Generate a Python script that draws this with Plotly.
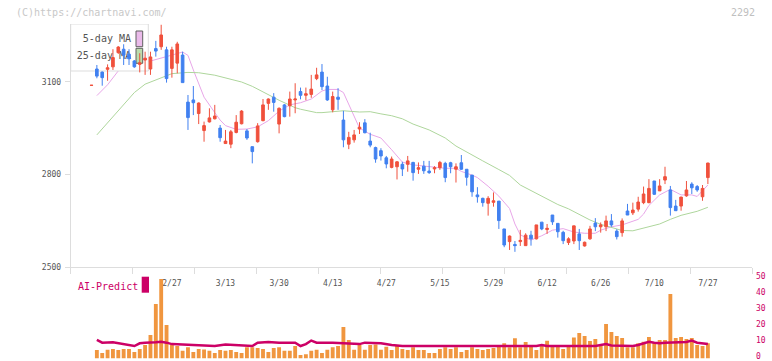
import plotly.graph_objects as go

# ---------------- data ----------------
idx = list(range(116))
opens = [3088, 3141, 3131, 3140, 3148, 3194, 3205, 3189, 3167, 3156,
         3170, 3141, 3207, 3213, 3203, 3143, 3160, 3186, 3034, 3041,
         2997, 2942, 2970, 2980, 2950, 2900, 2898, 2936, 2964, 2941,
         2890, 2906, 2974, 3030, 3050, 2963, 3025, 3022, 3041, 3068,
         3056, 3059, 3110, 3131, 3086, 3009, 3050, 2976, 2898, 2912,
         2947, 2967, 2908, 2887, 2877, 2854, 2823, 2825, 2833, 2833,
         2839, 2817, 2827, 2811, 2818, 2822, 2836, 2838, 2817, 2838,
         2817, 2798, 2734, 2723, 2707, 2710, 2714, 2624, 2583, 2574,
         2583, 2570, 2604, 2592, 2646, 2622, 2669, 2642, 2613, 2580,
         2585, 2608, 2569, 2592, 2643, 2631, 2631, 2650, 2617, 2612,
         2682, 2676, 2688, 2709, 2709, 2779, 2747, 2782, 2750, 2698,
         2698, 2731, 2769, 2761, 2728, 2790]
highs = [3088.5, 3154, 3133, 3156, 3205, 3215, 3221, 3205, 3170, 3192,
         3197, 3197, 3232, 3284, 3213, 3213, 3229, 3197, 3057, 3086,
         3033, 2971, 3014, 3025, 2960, 2944, 2944, 2992, 3008, 2947,
         2890, 2966, 3044, 3046, 3063, 3017, 3028, 3068, 3095, 3081,
         3081, 3122, 3145, 3157, 3116, 3068, 3079, 3006, 2938, 2944,
         2969, 2979, 2935, 2890, 2885, 2860, 2858, 2843, 2841, 2860,
         2841, 2839, 2844, 2844, 2827, 2844, 2841, 2841, 2836, 2863,
         2817, 2798, 2759, 2725, 2730, 2742, 2714, 2624, 2603, 2585,
         2621, 2610, 2618, 2637, 2646, 2640, 2669, 2642, 2618, 2597,
         2634, 2624, 2583, 2634, 2659, 2645, 2667, 2672, 2623, 2658,
         2705, 2709, 2728, 2761, 2785, 2779, 2785, 2825, 2763, 2718,
         2728, 2779, 2775, 2766, 2766, 2838]
lows = [3088, 3111, 3087, 3103, 3138, 3190, 3154, 3154, 3145, 3130,
        3122, 3122, 3181, 3203, 3097, 3113, 3127, 3097, 2944, 2992,
        2963, 2906, 2968, 2978, 2906, 2900, 2885, 2933, 2962, 2912,
        2836, 2903, 2972, 3009, 3003, 2933, 2985, 2987, 2998, 3043,
        3040, 3048, 3105, 3073, 3038, 3001, 3009, 2888, 2882, 2903,
        2931, 2933, 2888, 2838, 2845, 2820, 2820, 2784, 2795, 2809,
        2780, 2802, 2802, 2802, 2804, 2815, 2775, 2804, 2774, 2815,
        2764, 2728, 2709, 2696, 2667, 2696, 2624, 2565, 2556, 2550,
        2569, 2570, 2570, 2590, 2620, 2608, 2637, 2596, 2575, 2572,
        2575, 2556, 2567, 2589, 2617, 2612, 2617, 2631, 2590, 2599,
        2669, 2669, 2680, 2704, 2707, 2734, 2747, 2769, 2667, 2683,
        2683, 2728, 2737, 2744, 2715, 2769]
closes = [3088.5, 3118, 3113, 3145, 3178, 3212, 3186, 3174, 3148, 3161,
          3176, 3180, 3199, 3251, 3110, 3203, 3222, 3097, 2984, 3032,
          3031, 2958, 2983, 2989, 2919, 2908, 2938, 2969, 3005, 2918,
          2874, 2957, 3025, 3044, 3033, 3014, 2987, 3044, 3044, 3056,
          3061, 3076, 3122, 3084, 3041, 3052, 3043, 2912, 2920, 2928,
          2953, 2935, 2895, 2850, 2860, 2834, 2850, 2841, 2818, 2844,
          2806, 2822, 2812, 2806, 2822, 2839, 2790, 2825, 2825, 2817,
          2791, 2744, 2728, 2709, 2723, 2715, 2651, 2572, 2601, 2570,
          2587, 2604, 2592, 2637, 2624, 2626, 2647, 2615, 2586, 2592,
          2634, 2586, 2581, 2624, 2631, 2637, 2650, 2637, 2599, 2650,
          2669, 2685, 2711, 2737, 2755, 2736, 2763, 2793, 2693, 2683,
          2727, 2750, 2757, 2750, 2755, 2837]
volume = [0, 5.3, 3.4, 5.5, 5.9, 5.3, 5.9, 5.9, 4.1, 5.9,
          8.4, 14.7, 34, 49.7, 20.9, 8.4, 7.8, 4.9, 7, 4.1,
          5.9, 5.7, 4.9, 3.4, 5.3, 4.9, 5.3, 4.1, 3.4, 7,
          7, 6.6, 5.9, 4.1, 6.6, 7, 4.9, 4.9, 7.8, 2.2,
          2.6, 4.9, 5.5, 3.4, 5.5, 7, 7.8, 19.7, 11.6, 5.5,
          8.4, 5.5, 8.4, 8.8, 5.5, 7.4, 5.3, 7.8, 5.9, 5.3,
          7, 5.3, 5.3, 3.4, 3.4, 5.9, 7, 5.9, 7, 4.1,
          5.3, 7, 5.9, 5.3, 5.9, 6.6, 7.8, 9.5, 7, 12.6,
          7, 10.3, 8.4, 5.3, 8.4, 11.1, 7.8, 7.4, 5.9, 7.8,
          13.2, 15.9, 14, 10.9, 12.2, 7.8, 21.6, 16.6, 14, 12.8,
          7, 7, 9.5, 10.5, 13.4, 10.3, 11.6, 11.6, 40.3, 12.8,
          13.4, 12.2, 12.8, 8.4, 7.8, 9.5]

ma5_idx = [1, 3, 5, 7, 10, 13, 15, 17, 18, 19, 20, 21, 23, 24, 25, 27, 29, 31,
           33, 35, 37, 39, 41, 43, 44, 46, 47, 48, 50, 52, 54, 56, 57, 58, 60,
           63, 66, 68, 69, 71, 72, 74, 76, 78, 79, 80, 82, 84, 86, 88, 90, 92,
           94, 95, 97, 99, 102, 103, 104, 106, 108, 110, 112, 113, 115]
ma5_val = [3055, 3090, 3135, 3158, 3162, 3175, 3186, 3196, 3185, 3138, 3095,
           3050, 3000, 2976, 2958, 2946, 2947, 2954, 2974, 3005, 3025, 3032,
           3044, 3070, 3075, 3075, 3065, 3025, 2950, 2930, 2918, 2880, 2860,
           2840, 2831, 2825, 2820, 2820, 2810, 2798, 2790, 2762, 2730, 2690,
           2640, 2605, 2588, 2602, 2620, 2625, 2614, 2610, 2610, 2620, 2631,
           2637, 2655, 2672, 2700, 2734, 2752, 2734, 2734, 2729, 2766]

ma25_idx = [1, 3, 5, 8, 10, 13, 15, 18, 20, 23, 25, 28, 30, 33, 35, 38, 39,
            42, 43, 45, 47, 50, 52, 54, 56, 58, 60, 63, 66, 68, 71, 73, 76,
            78, 80, 82, 84, 86, 87, 89, 91, 93, 95, 97, 99, 101, 103, 106,
            108, 110, 113, 115]
ma25_val = [2928, 2968, 3008, 3065, 3092, 3112, 3126, 3130, 3129, 3121, 3112,
            3099, 3085, 3058, 3040, 3016, 3011, 3000, 3000, 3003, 3006, 3002,
            3003, 2996, 2990, 2980, 2963, 2944, 2918, 2892, 2862, 2844, 2816,
            2797, 2766, 2748, 2732, 2714, 2703, 2689, 2670, 2653, 2639, 2628,
            2619, 2618, 2626, 2640, 2655, 2668, 2681, 2694]

ai_idx = [1, 2, 4, 5, 7, 8, 9, 10, 12, 13, 14, 15, 18, 20, 22, 23, 25, 28,
          30, 31, 33, 35, 38, 39, 40, 41, 42, 45, 47, 50, 51, 54, 56, 58, 66,
          83, 84, 85, 94, 95, 96, 97, 99, 101, 102, 104, 105, 106, 107, 110,
          111, 112, 113, 115]
ai_val = [11.6, 9.9, 10.1, 9.5, 8.6, 7.8, 9.5, 9.9, 10.1, 10.5, 9.9, 9.0,
          8.6, 8.2, 8.2, 7.8, 8.8, 8.2, 7.8, 9.9, 10.3, 9.9, 9.9, 7.8, 9.0,
          11.2, 9.9, 9.9, 9.5, 9.0, 9.9, 9.5, 8.4, 7.8, 7.8, 7.8, 8.4, 7.8,
          7.8, 8.6, 9.0, 8.2, 7.8, 7.8, 8.4, 10.5, 9.9, 9.5, 9.9, 9.9, 10.3,
          11.2, 9.9, 9.0]

date_idx = [15, 25, 35, 45, 55, 65, 75, 85, 95, 105, 115]
date_labels = ["2/27", "3/13", "3/30", "4/13", "4/27", "5/15", "5/29",
               "6/12", "6/26", "7/10", "7/27"]
price_ticks = [2500, 2800, 3100]
vol_ticks = [0, 10, 20, 30, 40, 50]

# ---------------- styling / geometry ----------------
W, H = 772, 361
FONT = "DejaVu Sans Mono"
RED, BLUE = "#f0503c", "#4080f0"
ORANGE, CRIMSON = "#f0963f", "#cc0066"
PINK, GREEN = "#e8a6e8", "#aed69c"
AXC = "#dddddd"

PX_L, PX_R = 70.7, 752.0          # plot left / right (px)
PY_TOP, PY_BOT = 24.0, 267.3      # price panel top / bottom (px)
VY_TOP, VY_BOT = 278.5, 358.5     # volume panel (50 .. 0)
X_RANGE = [-3.88, 123.23]
Y_RANGE = [2500, 3286.5]


def px2x(px):
    return X_RANGE[0] + (px - PX_L) / (PX_R - PX_L) * (X_RANGE[1] - X_RANGE[0])


def py2y(py):
    return Y_RANGE[0] + (PY_BOT - py) / (PY_BOT - PY_TOP) * (Y_RANGE[1] - Y_RANGE[0])


def rect(x0, y0, x1, y1):
    return ([px2x(x0), px2x(x1), px2x(x1), px2x(x0), px2x(x0)],
            [py2y(y0), py2y(y0), py2y(y1), py2y(y1), py2y(y0)])


fig = go.Figure()

# moving averages (main subplot, drawn first)
fig.add_trace(go.Scatter(x=ma5_idx, y=ma5_val, mode="lines",
                         line=dict(color=PINK, width=1), xaxis="x", yaxis="y"))
fig.add_trace(go.Scatter(x=ma25_idx, y=ma25_val, mode="lines",
                         line=dict(color=GREEN, width=1), xaxis="x", yaxis="y"))

# legend box (hides MA lines, lies under candles)
bx, by = rect(PX_L, PY_TOP, 148.3, 71)
fig.add_trace(go.Scatter(x=bx, y=by, mode="lines", fill="toself",
                         fillcolor="white", line=dict(color=AXC, width=1),
                         xaxis="x", yaxis="y"))
sx, sy = rect(136, 31, 142.7, 46.7)
fig.add_trace(go.Scatter(x=sx, y=sy, mode="lines", fill="toself",
                         fillcolor="#eabbea", line=dict(color="#606060", width=1),
                         xaxis="x", yaxis="y"))
sx, sy = rect(136, 48.3, 142.7, 63.3)
fig.add_trace(go.Scatter(x=sx, y=sy, mode="lines", fill="toself",
                         fillcolor="#bcdcac", line=dict(color="#606060", width=1),
                         xaxis="x", yaxis="y"))
fig.add_trace(go.Scatter(x=[px2x(131), px2x(131)], y=[py2y(39.5), py2y(56.5)],
                         mode="text", text=["5-day MA", "25-day MA"],
                         textposition="middle left",
                         textfont=dict(family=FONT, size=10, color="#555555"),
                         xaxis="x", yaxis="y"))

# candles on an overlay subplot so they sit above the legend box
fig.add_trace(go.Candlestick(
    x=idx, open=opens, high=highs, low=lows, close=closes,
    increasing=dict(line=dict(color=RED, width=1), fillcolor=RED),
    decreasing=dict(line=dict(color=BLUE, width=1), fillcolor=BLUE),
    whiskerwidth=0, xaxis="x2", yaxis="y2"))

# volume + AI-predict line
fig.add_trace(go.Bar(x=idx, y=volume, marker=dict(color=ORANGE, line=dict(width=0)),
                     width=0.72, xaxis="x", yaxis="y3"))
fig.add_trace(go.Scatter(x=ai_idx, y=ai_val, mode="lines",
                         line=dict(color=CRIMSON, width=2.5),
                         xaxis="x", yaxis="y3"))

minor_vals = [X_RANGE[0] + k * (X_RANGE[1] - X_RANGE[0]) / 11 for k in range(12)]

fig.update_layout(
    width=W, height=H, autosize=False,
    margin=dict(l=0, r=0, t=0, b=0, pad=0, autoexpand=False),
    paper_bgcolor="white", plot_bgcolor="white",
    showlegend=False, hovermode=False, dragmode=False,
    boxgap=0.3,
    font=dict(family=FONT, size=8, color="#555555"),
    xaxis=dict(domain=[PX_L / W, PX_R / W], range=X_RANGE, anchor="y",
               automargin=False, ticklabeloverflow="allow",
               showline=True, linecolor=AXC, linewidth=1,
               showgrid=False, zeroline=False,
               tickmode="array", tickvals=date_idx, ticktext=date_labels,
               ticks="", ticklabelstandoff=8,
               tickfont=dict(family=FONT, size=8, color="#555555"),
               minor=dict(tickmode="array", tickvals=minor_vals, ticks="outside",
                          ticklen=6, tickcolor=AXC, tickwidth=1, showgrid=False),
               rangeslider=dict(visible=False), fixedrange=True),
    yaxis=dict(domain=[1 - PY_BOT / H, 1 - PY_TOP / H], range=Y_RANGE, anchor="x",
               automargin=False, ticklabeloverflow="allow",
               showline=True, linecolor=AXC, linewidth=1,
               showgrid=False, zeroline=False,
               tickmode="array", tickvals=price_ticks,
               ticks="outside", ticklen=5, tickcolor=AXC,
               ticklabelstandoff=2,
               tickfont=dict(family=FONT, size=8, color="#555555"),
               fixedrange=True),
    xaxis2=dict(overlaying="x", range=X_RANGE, anchor="y2", visible=False,
                automargin=False,
                rangeslider=dict(visible=False), fixedrange=True),
    yaxis2=dict(overlaying="y", range=Y_RANGE, anchor="x2", visible=False,
                automargin=False, fixedrange=True),
    yaxis3=dict(domain=[1 - VY_BOT / H, 1 - VY_TOP / H], range=[0, 50], anchor="x",
                automargin=False, ticklabeloverflow="allow",
                side="right", showline=False, showgrid=False, zeroline=False,
                tickmode="array", tickvals=vol_ticks, ticks="",
                ticklabelstandoff=3, ticklabelshift=-2,
                tickfont=dict(family=FONT, size=8, color=CRIMSON),
                fixedrange=True),
    annotations=[
        dict(x=14 / W, y=1 - 12.5 / H, xref="paper", yref="paper",
             xanchor="left", yanchor="middle", showarrow=False,
             text="(C)https://chartnavi.com/",
             font=dict(family=FONT, size=10, color="#c8c8c8")),
        dict(x=757 / W, y=1 - 12.5 / H, xref="paper", yref="paper",
             xanchor="right", yanchor="middle", showarrow=False,
             text="2292", font=dict(family=FONT, size=10, color="#c0c0c0")),
        dict(x=76 / W, y=1 - 286 / H, xref="paper", yref="paper",
             xanchor="left", yanchor="middle", showarrow=False,
             text="AI-Predict", font=dict(family=FONT, size=10, color=CRIMSON)),
    ],
    shapes=[
        dict(type="rect", xref="paper", yref="paper",
             x0=141.7 / W, x1=149 / W, y0=1 - 292.7 / H, y1=1 - 276.7 / H,
             fillcolor=CRIMSON, line=dict(width=0)),
    ],
)

fig.write_html("out.html", config={"displayModeBar": False, "staticPlot": True})
